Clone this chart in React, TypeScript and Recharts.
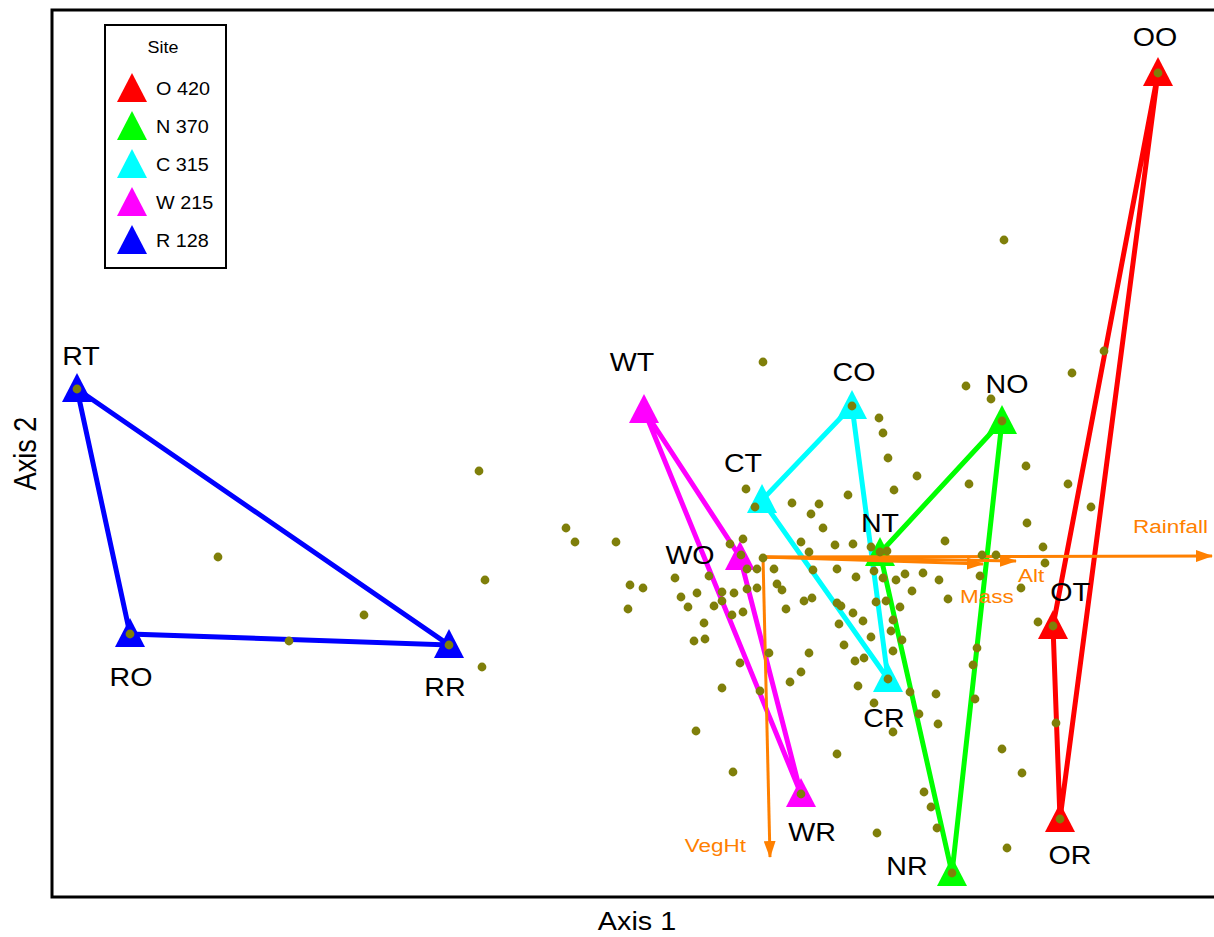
import React from 'react';
import { ScatterChart, Scatter, XAxis, YAxis, ReferenceArea, Legend } from 'recharts';

// plot scores (axis 2 runs downward, hence the reversed Y axis)
const axis1Domain = [52, 1222];
const axis2Domain = [10, 897];

const siteLegend = ['O 420', 'N 370', 'C 315', 'W 215', 'R 128'];
const siteColors = ['#ff0000', '#00ff00', '#00ffff', '#ff00ff', '#0000ff'];

const siteO = [
  { code: 'OO', x: 1158, y: 73 },
  { code: 'OT', x: 1053, y: 626 },
  { code: 'OR', x: 1060, y: 819 },
];
const siteN = [
  { code: 'NO', x: 1002, y: 421 },
  { code: 'NT', x: 880, y: 553 },
  { code: 'NR', x: 952, y: 873 },
];
const siteC = [
  { code: 'CO', x: 852, y: 406 },
  { code: 'CT', x: 762, y: 500 },
  { code: 'CR', x: 888, y: 679 },
];
const siteW = [
  { code: 'WT', x: 644, y: 410 },
  { code: 'WO', x: 740, y: 557 },
  { code: 'WR', x: 801, y: 794 },
];
const siteR = [
  { code: 'RT', x: 77, y: 389 },
  { code: 'RO', x: 130, y: 634 },
  { code: 'RR', x: 449, y: 645 },
];
const sites = [siteO, siteN, siteC, siteW, siteR];

// species scores
const speciesScores = [
  [77, 389], [130, 634], [449, 645], [218, 557], [364, 615], [289, 641], [479, 471], [485, 580], [482, 667],
  [1158, 73], [1004, 240], [1104, 351], [1072, 373], [966, 386], [991, 399], [1002, 421], [763, 362], [852, 406],
  [879, 418], [883, 433], [888, 458], [917, 476], [894, 490], [848, 495], [969, 484], [1026, 466], [1068, 484],
  [1091, 507], [1027, 523], [945, 541], [1043, 547], [1045, 563],
  [746, 489], [755, 507], [792, 503], [819, 504], [811, 514], [823, 528], [566, 528], [575, 542], [616, 542],
  [801, 542], [809, 552], [835, 545], [853, 544], [871, 547], [880, 552], [887, 551], [730, 544], [743, 539],
  [741, 555], [763, 558], [747, 569], [757, 569], [774, 569], [813, 570], [837, 569], [675, 578], [709, 576],
  [630, 585], [643, 588], [628, 609], [777, 584], [782, 590], [757, 588], [747, 589], [722, 592], [734, 593],
  [697, 593], [681, 597], [688, 607], [714, 606], [722, 601], [732, 615], [743, 612], [786, 609], [704, 623],
  [694, 641], [705, 639], [740, 663], [769, 653], [809, 653], [801, 672], [790, 682], [722, 688], [760, 691],
  [696, 731], [733, 772], [837, 754], [801, 794], [804, 601], [812, 598], [856, 577], [874, 571], [883, 578],
  [896, 580], [905, 574], [923, 573], [939, 580], [912, 591], [948, 599], [980, 576], [837, 603], [841, 606],
  [876, 602], [886, 601], [900, 607], [839, 624], [853, 613], [863, 621], [893, 620], [891, 631], [902, 640],
  [871, 637], [844, 645], [893, 651], [855, 661], [864, 658], [888, 679], [858, 686], [874, 703], [893, 732],
  [910, 692], [919, 714], [936, 694], [938, 724], [977, 648], [973, 665], [975, 699], [924, 792], [931, 807],
  [937, 828], [877, 833], [952, 873], [1002, 749], [982, 555], [996, 555], [1021, 588], [1038, 622], [1053, 626],
  [1056, 723], [1022, 773], [1060, 819], [1007, 848],
];

// environmental vectors
const vectorOrigin = { x: 763, y: 557 };
const vectorNames = ['Rainfall', 'Alt', 'Mass', 'VegHt'];
const vectorTips = [
  { x: 1212, y: 556 },
  { x: 1016, y: 561 },
  { x: 983, y: 564 },
  { x: 770, y: 857 },
];

// label placement relative to the point (dx, baseline dy)
const siteLabelPos: Record<string, [number, number]> = {
  OO: [-3, -27], OT: [17, -25], OR: [10, 45],
  NO: [5, -28], NT: [0, -21], NR: [-45, 2],
  CO: [2, -25], CT: [-19, -28], CR: [-4, 48],
  WT: [-12, -39], WO: [-50, 7], WR: [11, 47],
  RT: [4, -24], RO: [1, 52], RR: [-4, 51],
};
const vectorLabelPos: Record<string, [number, number, string]> = {
  Rainfall: [-4, -23, 'end'],
  Alt: [2, 21, 'start'],
  Mass: [-23, 39, 'start'],
  VegHt: [-24, -5, 'end'],
};

const FONT = '"Liberation Sans", Arial, sans-serif';
const ORANGE = '#ff8000';
const OLIVE = '#7f7f0a';

const SiteMarker = (props: any) => {
  const { cx, cy, payload, color } = props;
  const [dx, dy] = siteLabelPos[payload.code];
  return (
    <g>
      <polygon points={`${cx},${cy - 16} ${cx - 15},${cy + 13} ${cx + 15},${cy + 13}`} fill={color} />
      <text
        transform={`translate(${cx + dx},${cy + dy}) scale(1.1,1)`}
        textAnchor="middle"
        fontSize={26}
        fontFamily={FONT}
        fill="#000"
      >
        {payload.code}
      </text>
    </g>
  );
};

const VectorTip = (props: any) => {
  const { cx, cy, payload } = props;
  if (!payload.name) return <g />;
  const [dx, dy, anchor] = vectorLabelPos[payload.name];
  return (
    <text
      transform={`translate(${cx + dx},${cy + dy}) scale(1.25,1)`}
      textAnchor={anchor}
      fontSize={18}
      fontFamily={FONT}
      fill={ORANGE}
    >
      {payload.name}
    </text>
  );
};

const SpeciesDot = (props: any) => <circle cx={props.cx} cy={props.cy} r={4.4} fill={OLIVE} />;

const SiteLegend = () => (
  <div style={{ width: 119, height: 241, border: '2px solid #000', background: '#fff' }}>
    <svg width={119} height={241} style={{ display: 'block' }}>
      <text transform="translate(57,27) scale(1.12,1)" textAnchor="middle" fontSize={16} fontFamily={FONT}>
        Site
      </text>
      {siteLegend.map((name, i) => {
        const cy = 62 + i * 38;
        return (
          <g key={name}>
            <polygon points={`26,${cy - 15} 11,${cy + 14} 41,${cy + 14}`} fill={siteColors[i]} />
            <text transform={`translate(50,${cy + 6.5}) scale(1.1,1)`} fontSize={18} fontFamily={FONT}>
              {name}
            </text>
          </g>
        );
      })}
    </svg>
  </div>
);

const renderAxis1 = (props: any) => {
  const vb = props.viewBox;
  return (
    <text
      transform={`translate(${vb.x + vb.width / 2},${vb.y + 33}) scale(1.15,1)`}
      textAnchor="middle"
      fontSize={25}
      fontFamily={FONT}
      fill="#000"
    >
      Axis 1
    </text>
  );
};

const renderAxis2 = (props: any) => {
  const vb = props.viewBox;
  return (
    <text
      transform={`translate(36,${vb.y + vb.height / 2}) scale(1.15,1) rotate(-90)`}
      textAnchor="middle"
      fontSize={27}
      fontFamily={FONT}
      fill="#000"
    >
      Axis 2
    </text>
  );
};

export default function App() {
  const dots = speciesScores.map(([x, y]) => ({ x, y }));
  return (
    <div style={{ position: 'absolute', left: 0, top: 0, width: 1214, height: 937, overflow: 'hidden', background: '#fff' }}>
      <ScatterChart width={1240} height={937} margin={{ top: 10, right: 18, bottom: 0, left: 0 }}>
        <defs>
          <marker id="vecHead" markerWidth={17} markerHeight={12} refX={16} refY={6} orient="auto" markerUnits="userSpaceOnUse">
            <path d="M0,0 L17,6 L0,12 z" fill={ORANGE} />
          </marker>
        </defs>
        <XAxis
          type="number"
          dataKey="x"
          domain={axis1Domain}
          allowDataOverflow
          height={40}
          tick={false}
          tickLine={false}
          axisLine={false}
          label={renderAxis1}
        />
        <YAxis
          type="number"
          dataKey="y"
          domain={axis2Domain}
          reversed
          allowDataOverflow
          width={52}
          tick={false}
          tickLine={false}
          axisLine={false}
          label={renderAxis2}
        />
        <ReferenceArea
          x1={axis1Domain[0]}
          x2={axis1Domain[1]}
          y1={axis2Domain[0]}
          y2={axis2Domain[1]}
          fill="none"
          fillOpacity={0}
          stroke="#000"
          strokeWidth={3}
          ifOverflow="visible"
        />
        {sites.map((group, i) => (
          <Scatter
            key={`line-${i}`}
            data={[...group, group[0]]}
            fill={siteColors[i]}
            line={{ stroke: siteColors[i], strokeWidth: 5 }}
            lineJointType="linear"
            shape={() => <g />}
            legendType="none"
            isAnimationActive={false}
          />
        ))}
        {sites.map((group, i) => (
          <Scatter
            key={`site-${i}`}
            data={group}
            fill={siteColors[i]}
            shape={(p: any) => <SiteMarker {...p} color={siteColors[i]} />}
            isAnimationActive={false}
          />
        ))}
        {vectorNames.map((name, i) => (
          <Scatter
            key={name}
            data={[vectorOrigin, { ...vectorTips[i], name }]}
            fill={ORANGE}
            line={{ stroke: ORANGE, strokeWidth: 3, markerEnd: 'url(#vecHead)' }}
            lineJointType="linear"
            shape={VectorTip}
            legendType="none"
            isAnimationActive={false}
          />
        ))}
        <Scatter data={dots} fill={OLIVE} shape={SpeciesDot} legendType="none" isAnimationActive={false} />
        <Legend
          layout="vertical"
          align="center"
          verticalAlign="middle"
          content={() => <SiteLegend />}
          wrapperStyle={{ left: 104, top: 24, width: 123 }}
        />
      </ScatterChart>
    </div>
  );
}
